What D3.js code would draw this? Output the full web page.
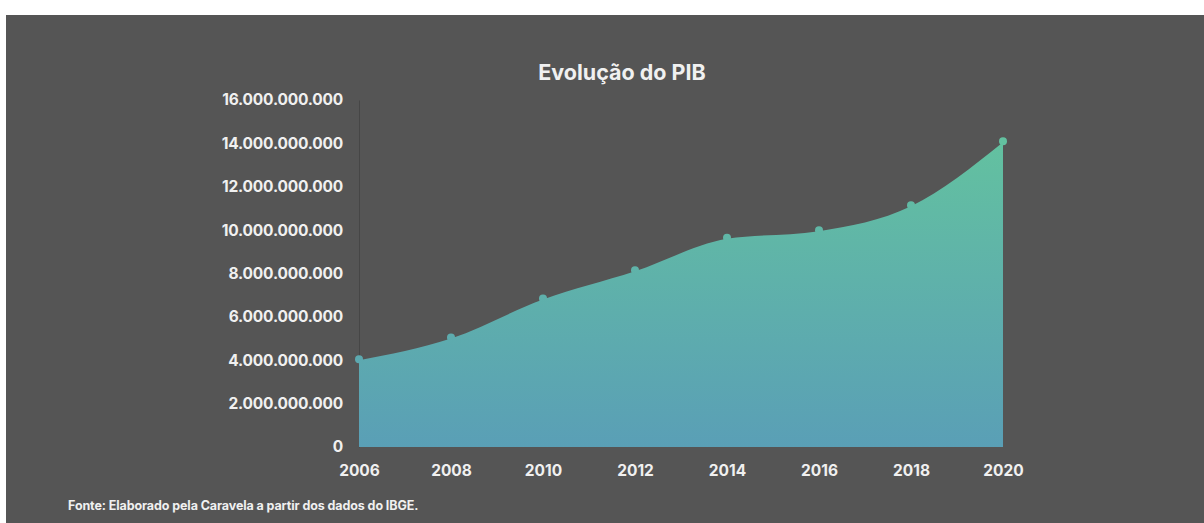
<!DOCTYPE html>
<html>
<head>
<meta charset="utf-8">
<script src="https://cdn.jsdelivr.net/npm/d3@7"></script>
<style>
  html, body { margin: 0; padding: 0; background: #ffffff; }
  svg { display: block; }
  text { font-family: "Inter", "Lato", sans-serif; }
</style>
</head>
<body>
<script>
// GDP series (R$), every two years
const years = [2006, 2008, 2010, 2012, 2014, 2016, 2018, 2020];
const pib = [4.0e9, 5.0e9, 6.8e9, 8.1e9, 9.6e9, 9.95e9, 11.1e9, 14.05e9];
const yTicks = [0, 2e9, 4e9, 6e9, 8e9, 10e9, 12e9, 14e9, 16e9];
const title = "Evolução do PIB";
const source = "Fonte: Elaborado pela Caravela a partir dos dados do IBGE.";

const W = 1204, H = 523;
const svg = d3.select("body").append("svg").attr("width", W).attr("height", H);

// panel background
svg.append("rect").attr("x", 6).attr("y", 15).attr("width", W - 6).attr("height", H - 15).attr("fill", "#555555");

const x = d3.scaleLinear().domain([2006, 2020]).range([359, 1003]);
const y = d3.scaleLinear().domain([0, 16e9]).range([447, 100]);

const data = years.map((yr, i) => ({ yr, v: pib[i] }));

const defs = svg.append("defs");
const grad = defs.append("linearGradient").attr("id", "areaGrad")
  .attr("gradientUnits", "userSpaceOnUse")
  .attr("x1", 0).attr("x2", 0).attr("y1", y(d3.max(pib))).attr("y2", y(0));
grad.append("stop").attr("offset", "0%").attr("stop-color", "#63c1a0");
grad.append("stop").attr("offset", "100%").attr("stop-color", "#5a9fb6");

const fmt = v => v === 0 ? "0" : d3.format(",")(v).replace(/,/g, ".");

// y axis
const yAxis = d3.axisLeft(y).tickValues(yTicks).tickSize(0).tickPadding(16).tickFormat(fmt);
const gy = svg.append("g").attr("transform", `translate(${x(2006)},0)`).call(yAxis);
gy.select(".domain").attr("stroke", "#464646").attr("stroke-width", 1);
gy.selectAll("text").attr("fill", "#f0f0f0").attr("font-size", 15.5).attr("font-weight", 700)
  .attr("letter-spacing", "-0.2px");

// x axis
const xAxis = d3.axisBottom(x).tickValues(years).tickSize(0).tickPadding(18).tickFormat(d3.format("d"));
const gx = svg.append("g").attr("transform", `translate(0,${y(0)})`).call(xAxis);
gx.select(".domain").remove();
gx.selectAll("text").attr("fill", "#f0f0f0").attr("font-size", 15.5).attr("font-weight", 700);

// area
const area = d3.area().x(d => x(d.yr)).y0(y(0)).y1(d => y(d.v)).curve(d3.curveMonotoneX);
svg.append("path").datum(data).attr("d", area).attr("fill", "url(#areaGrad)");

// markers
svg.append("g").selectAll("circle").data(data).join("circle")
  .attr("cx", d => x(d.yr)).attr("cy", d => y(d.v) - 1).attr("r", 4)
  .attr("fill", "url(#areaGrad)");

// title
svg.append("text").attr("x", 622).attr("y", 80).attr("text-anchor", "middle")
  .attr("fill", "#f0f0f0").attr("font-size", 21.5).attr("font-weight", 700).text(title);

// source note
svg.append("text").attr("x", 68).attr("y", 510)
  .attr("fill", "#f0f0f0").attr("font-size", 12.5).attr("font-weight", 700).attr("letter-spacing", "-0.1px").text(source);
</script>
</body>
</html>
